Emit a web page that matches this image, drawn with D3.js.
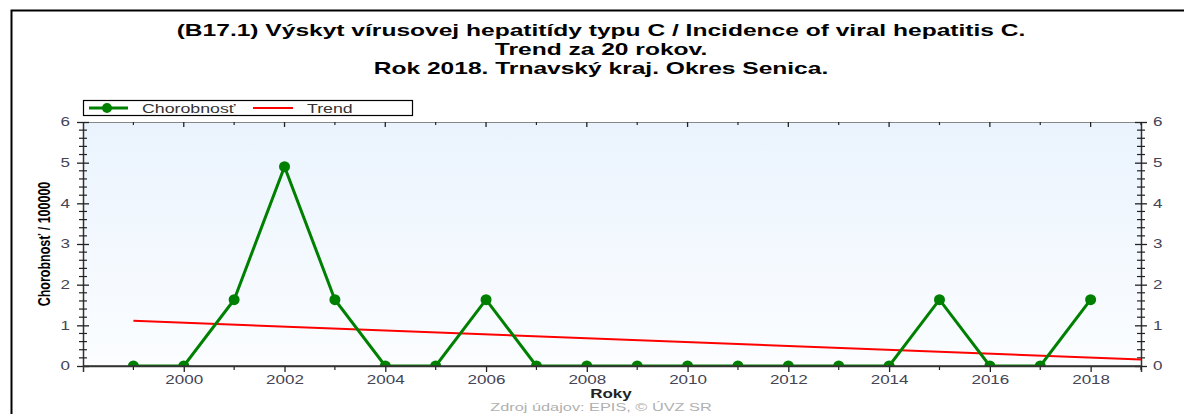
<!DOCTYPE html>
<html>
<head>
<meta charset="utf-8">
<script src="https://cdn.jsdelivr.net/npm/d3@7"></script>
<style>
  body { margin: 0; background: #fff; }
  svg { display: block; font-family: "Liberation Sans", Arial, sans-serif; }
</style>
</head>
<body>
<svg id="chart" width="1184" height="414"></svg>
<script>
// data
const years = [1999, 2000, 2001, 2002, 2003, 2004, 2005, 2006, 2007, 2008, 2009, 2010, 2011, 2012, 2013, 2014, 2015, 2016, 2017, 2018];
const chorobnost = [0, 0, 1.63, 4.9, 1.63, 0, 0, 1.63, 0, 0, 0, 0, 0, 0, 0, 0, 1.63, 0, 0, 1.63];
const trendYears = [1999, 2019];
const trendValues = [1.11, 0.16];
const yTicks = [0, 1, 2, 3, 4, 5, 6];
const xTickLabels = [2000, 2002, 2004, 2006, 2008, 2010, 2012, 2014, 2016, 2018];
const titleLines = [
  "(B17.1) Výskyt vírusovej hepatitídy typu C / Incidence of viral hepatitis C.",
  "Trend za 20 rokov.",
  "Rok 2018. Trnavský kraj. Okres Senica."
];

const W = 1184, H = 414;
const MARGIN = { left: 83, right: 1141, top: 122, bottom: 366 };
const GREEN = "#008000", RED = "#ff0000", LABEL = "#444455";
const S = 1.42; // the reference text is stretched horizontally

const svg = d3.select("#chart");

const x = d3.scaleLinear().domain([1998, 2019]).range([MARGIN.left, MARGIN.right]);
const y = d3.scaleLinear().domain([0, 6]).range([MARGIN.bottom, MARGIN.top]);

// put a text at (tx,ty) and stretch it
function addText(g, tx, ty, str) {
  return g.append("text")
    .attr("transform", `translate(${tx},${ty}) scale(${S},1)`)
    .text(str);
}

// outer frame
svg.append("path")
  .attr("d", `M11.5,${H} L11.5,10.5 L${W},10.5`)
  .attr("fill", "none").attr("stroke", "#000").attr("stroke-width", 2);

// title
const tg = svg.append("g")
  .attr("text-anchor", "middle")
  .attr("font-weight", "bold")
  .attr("font-size", "17.3px")
  .attr("fill", "#000");
titleLines.forEach((t, i) => addText(tg, 601, [36, 55, 74][i], t));

// plot background gradient
const defs = svg.append("defs");
const grad = defs.append("linearGradient").attr("id", "bg").attr("x1", 0).attr("y1", 0).attr("x2", 0).attr("y2", 1);
grad.append("stop").attr("offset", "0%").attr("stop-color", "#eaf3fd");
grad.append("stop").attr("offset", "100%").attr("stop-color", "#fbfdff");
defs.append("clipPath").attr("id", "clip")
  .append("rect")
  .attr("x", MARGIN.left).attr("y", MARGIN.top)
  .attr("width", MARGIN.right - MARGIN.left).attr("height", MARGIN.bottom - MARGIN.top);

svg.append("rect")
  .attr("x", MARGIN.left).attr("y", MARGIN.top)
  .attr("width", MARGIN.right - MARGIN.left).attr("height", MARGIN.bottom - MARGIN.top)
  .attr("fill", "url(#bg)");

// top border line of plot
svg.append("line")
  .attr("x1", MARGIN.left).attr("x2", MARGIN.right)
  .attr("y1", MARGIN.top + 0.5).attr("y2", MARGIN.top + 0.5)
  .attr("stroke", "#888").attr("stroke-width", 1);

// minor/major values for ticks
const yMinor = d3.range(0, 6.001, 0.2).filter(v => Math.abs(v - Math.round(v)) > 0.01);
const xMinor = d3.range(1999, 2019.5, 2);
const xMajor = d3.range(2000, 2019, 2);

function styleAxis(g) {
  g.select(".domain").attr("stroke", "#333").attr("stroke-width", 1.5);
  g.selectAll(".tick line").attr("stroke", "#222").attr("stroke-width", 1.3);
  g.selectAll(".tick text").attr("fill", LABEL).attr("font-size", "12px")
    .attr("font-family", "'Liberation Sans', Arial, sans-serif")
    .each(function() {
      const t = d3.select(this);
      const ox = +t.attr("x") || 0;
      t.attr("x", ox / S).attr("transform", `scale(${S},1)`);
    });
}

// left axis: major ticks crossing the line
const leftG = svg.append("g").attr("transform", `translate(${MARGIN.left},0)`);
leftG.call(d3.axisLeft(y).tickValues(yTicks).tickFormat(d3.format("d")).tickSize(0).tickPadding(13))
  .call(styleAxis);
leftG.selectAll(".tick").append("line").attr("x1", -6).attr("x2", 6).attr("stroke", "#222").attr("stroke-width", 1.3);
leftG.append("g").selectAll("line").data(yMinor).join("line")
  .attr("x1", -4).attr("x2", 4).attr("y1", d => y(d)).attr("y2", d => y(d))
  .attr("stroke", "#222").attr("stroke-width", 1.2);

// right axis
const rightG = svg.append("g").attr("transform", `translate(${MARGIN.right},0)`);
rightG.call(d3.axisRight(y).tickValues(yTicks).tickFormat(d3.format("d")).tickSize(0).tickPadding(12))
  .call(styleAxis);
rightG.selectAll(".tick").append("line").attr("x1", -6).attr("x2", 6).attr("stroke", "#222").attr("stroke-width", 1.3);
rightG.append("g").selectAll("line").data(yMinor).join("line")
  .attr("x1", -4).attr("x2", 4).attr("y1", d => y(d)).attr("y2", d => y(d))
  .attr("stroke", "#222").attr("stroke-width", 1.2);

// bottom axis
const bottomG = svg.append("g").attr("transform", `translate(0,${MARGIN.bottom})`);
bottomG.call(d3.axisBottom(x).tickValues(xTickLabels).tickFormat(d3.format("d")).tickSize(6).tickPadding(3))
  .call(styleAxis);
bottomG.append("g").selectAll("line").data(xMinor).join("line")
  .attr("x1", d => x(d)).attr("x2", d => x(d)).attr("y1", 0).attr("y2", 4)
  .attr("stroke", "#222").attr("stroke-width", 1.2);

// top axis (ticks inward, no labels)
const topG = svg.append("g").attr("transform", `translate(0,${MARGIN.top})`);
topG.append("g").selectAll("line").data(xMajor).join("line")
  .attr("x1", d => x(d)).attr("x2", d => x(d)).attr("y1", 0).attr("y2", 5)
  .attr("stroke", "#222").attr("stroke-width", 1.3);
topG.append("g").selectAll("line").data(xMinor).join("line")
  .attr("x1", d => x(d)).attr("x2", d => x(d)).attr("y1", 0).attr("y2", 3)
  .attr("stroke", "#222").attr("stroke-width", 1.2);

// series
const plot = svg.append("g").attr("clip-path", "url(#clip)");
const pts = years.map((yr, i) => [yr, chorobnost[i]]);

plot.append("path")
  .datum(trendYears.map((yr, i) => [yr, trendValues[i]]))
  .attr("fill", "none").attr("stroke", RED).attr("stroke-width", 2)
  .attr("d", d3.line().x(d => x(d[0])).y(d => y(d[1])));

plot.append("path")
  .datum(pts)
  .attr("fill", "none").attr("stroke", GREEN).attr("stroke-width", 3)
  .attr("d", d3.line().x(d => x(d[0])).y(d => y(d[1])));

plot.selectAll("circle").data(pts).join("circle")
  .attr("cx", d => x(d[0])).attr("cy", d => y(d[1])).attr("r", 5.5)
  .attr("fill", GREEN);

// redraw bottom domain line over markers
svg.append("line")
  .attr("x1", MARGIN.left).attr("x2", MARGIN.right)
  .attr("y1", MARGIN.bottom).attr("y2", MARGIN.bottom)
  .attr("stroke", "#333").attr("stroke-width", 1.5);

// legend
const lg = svg.append("g");
lg.append("rect").attr("x", 83.5).attr("y", 100.5).attr("width", 329).attr("height", 15)
  .attr("fill", "#fff").attr("stroke", "#000").attr("stroke-width", 1.2);
lg.append("line").attr("x1", 89).attr("x2", 128).attr("y1", 108).attr("y2", 108)
  .attr("stroke", GREEN).attr("stroke-width", 3);
lg.append("circle").attr("cx", 107).attr("cy", 108).attr("r", 5).attr("fill", GREEN);
lg.append("line").attr("x1", 253).attr("x2", 293).attr("y1", 108).attr("y2", 108)
  .attr("stroke", RED).attr("stroke-width", 2);
const lt = lg.append("g").attr("font-size", "12.5px").attr("fill", "#333");
addText(lt, 142, 112.5, "Chorobnosť");
addText(lt, 307, 112.5, "Trend");

// axis titles
svg.append("text")
  .attr("transform", `translate(50,244) scale(1.25,1) rotate(-90)`)
  .attr("text-anchor", "middle")
  .attr("font-family", "'Liberation Sans Narrow', 'Liberation Sans', Arial, sans-serif")
  .attr("font-weight", "bold").attr("font-size", "12.5px").attr("fill", "#000")
  .text("Chorobnosť / 100000");

addText(svg.append("g").attr("text-anchor", "middle").attr("font-weight", "bold")
  .attr("font-size", "12px").attr("fill", "#222"), 611, 398, "Roky");

addText(svg.append("g").attr("text-anchor", "middle")
  .attr("font-size", "11.5px").attr("fill", "#b0b0b0"), 601, 411, "Zdroj údajov: EPIS, © ÚVZ SR");
</script>
</body>
</html>
